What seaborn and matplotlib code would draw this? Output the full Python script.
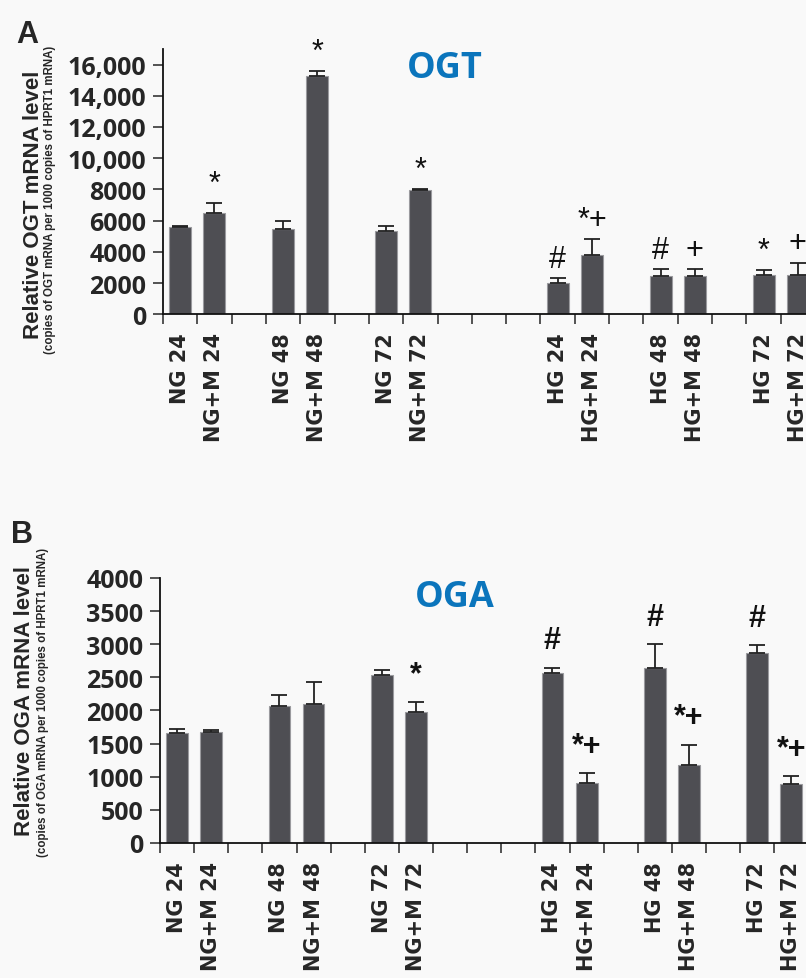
import matplotlib
matplotlib.use("Agg")
import matplotlib.pyplot as plt
import seaborn as sns
import pandas as pd
import numpy as np

# groups shown on both panels, in plotting order
groups = ['NG 24', 'NG+M 24', 'NG 48', 'NG+M 48', 'NG 72', 'NG+M 72',
          'HG 24', 'HG+M 24', 'HG 48', 'HG+M 48', 'HG 72', 'HG+M 72']

# x slots incl. empty spacer slots (unique blank names)
order = ['NG 24', 'NG+M 24', ' ', 'NG 48', 'NG+M 48', '  ', 'NG 72', 'NG+M 72',
         '   ', '    ', '     ', 'HG 24', 'HG+M 24', '      ', 'HG 48', 'HG+M 48',
         '       ', 'HG 72', 'HG+M 72']

# panel A - OGT
ogt_mean = [5600, 6470, 5450, 15280, 5320, 7930, 2010, 3800, 2480, 2420, 2540, 2540]
ogt_err = [50, 640, 530, 280, 320, 100, 280, 1030, 430, 490, 280, 770]
ogt_marks = ['', '*', '', '*', '', '*', '#', '*+', '#', '+', '*', '+']
ogt_ticks = [0, 2000, 4000, 6000, 8000, 10000, 12000, 14000, 16000]
ogt_ticklabels = ['0', '2000', '4000', '6000', '8000', '10,000', '12,000', '14,000', '16,000']

# panel B - OGA
oga_mean = [1655, 1675, 2060, 2095, 2535, 1975, 2570, 910, 2635, 1180, 2860, 895]
oga_err = [65, 25, 170, 340, 75, 155, 75, 140, 365, 300, 120, 110]
oga_marks = ['', '', '', '', '', '*', '#', '*+', '#', '*+', '#', '*+']
oga_ticks = [0, 500, 1000, 1500, 2000, 2500, 3000, 3500, 4000]
oga_ticklabels = ['0', '500', '1000', '1500', '2000', '2500', '3000', '3500', '4000']

sns.set_style("ticks")
plt.rcParams['font.family'] = ['Liberation Sans', 'DejaVu Sans']

bg = '#f9f9f9'
bar_col = '#4e4e53'
blue = '#0b75bc'

fig = plt.figure(figsize=(8.06, 9.79), dpi=100, facecolor=bg)
axA = fig.add_axes([0.2022, 0.678, 0.809, 0.271])
axB = fig.add_axes([0.1985, 0.138, 0.8045, 0.2707])


def draw_panel(ax, mean, err, marks, ticks, ticklabels, ymax, title, title_xy,
               mark_bold, mark_pad):
    df = pd.DataFrame({'group': groups, 'value': mean})
    sns.barplot(data=df, x='group', y='value', order=order, color=bar_col,
                saturation=1, width=0.64, errorbar=None, edgecolor='#9a9a9e',
                linewidth=0.8, ax=ax)
    pos = [order.index(g) for g in groups]
    ax.errorbar(pos, mean, yerr=[np.zeros(len(mean)), err], fmt='none',
                ecolor='#222222', elinewidth=1.3, capsize=6, capthick=1.3)
    for p, m, e, t in zip(pos, mean, err, marks):
        if t:
            ax.annotate(t, xy=(p, m + e), xytext=(0, mark_pad), textcoords='offset points',
                        ha='center', va='bottom', fontsize=22,
                        fontweight='bold' if mark_bold else 'normal', color='#111111')
    ax.set_facecolor(bg)
    ax.set_xlim(-0.5, len(order) - 0.5)
    ax.set_ylim(0, ymax)
    ax.set_xlabel('')
    ax.set_ylabel('')
    ax.set_xticks(range(len(order)))
    ax.set_xticklabels([o.strip() for o in order], rotation=90,
                       fontfamily='DejaVu Sans', fontweight='bold', fontsize=15)
    ax.set_xticks(np.arange(-0.5, len(order), 1), minor=True)
    ax.tick_params(axis='x', which='major', length=0, pad=13)
    ax.tick_params(axis='x', which='minor', length=7, width=1.1, direction='out')
    ax.set_yticks(ticks)
    ax.set_yticklabels(ticklabels, fontfamily='Open Sans', fontweight='bold', fontsize=18)
    ax.tick_params(axis='y', length=7, width=1.1, direction='out', pad=5)
    for s in ['left', 'bottom']:
        ax.spines[s].set_linewidth(1.3)
        ax.spines[s].set_color('#111111')
    sns.despine(ax=ax)
    fig.text(title_xy[0], title_xy[1], title, color=blue, fontsize=26,
             fontfamily='Open Sans', fontweight='bold', ha='center', va='center')


draw_panel(axA, ogt_mean, ogt_err, ogt_marks, ogt_ticks, ogt_ticklabels, 17000,
           'OGT', (445 / 806, 1 - 69 / 979), False, 3)
draw_panel(axB, oga_mean, oga_err, oga_marks, oga_ticks, oga_ticklabels, 4000,
           'OGA', (455 / 806, 1 - 598 / 979), True, 9)

# y labels (two lines, different sizes)
fig.text(34 / 806, 1 - 205 / 979, 'Relative OGT mRNA level', rotation=90,
         fontsize=16, fontweight='bold', ha='center', va='center')
fig.text(50 / 806, 1 - 200 / 979, '(copies of OGT mRNA per 1000 copies of HPRT1 mRNA)',
         rotation=90, fontsize=8.3, fontweight='bold', ha='center', va='center')
fig.text(25 / 806, 1 - 701 / 979, 'Relative OGA mRNA level', rotation=90,
         fontsize=16, fontweight='bold', ha='center', va='center')
fig.text(43 / 806, 1 - 702 / 979, '(copies of OGA mRNA per 1000 copies of HPRT1 mRNA)',
         rotation=90, fontsize=8.3, fontweight='bold', ha='center', va='center')

# panel letters
fig.text(27 / 806, 1 - 35 / 979, 'A', fontsize=22, fontweight='bold', ha='center', va='center')
fig.text(22 / 806, 1 - 535 / 979, 'B', fontsize=22, fontweight='bold', ha='center', va='center')

fig.savefig('out.png', dpi=100, facecolor=bg)
